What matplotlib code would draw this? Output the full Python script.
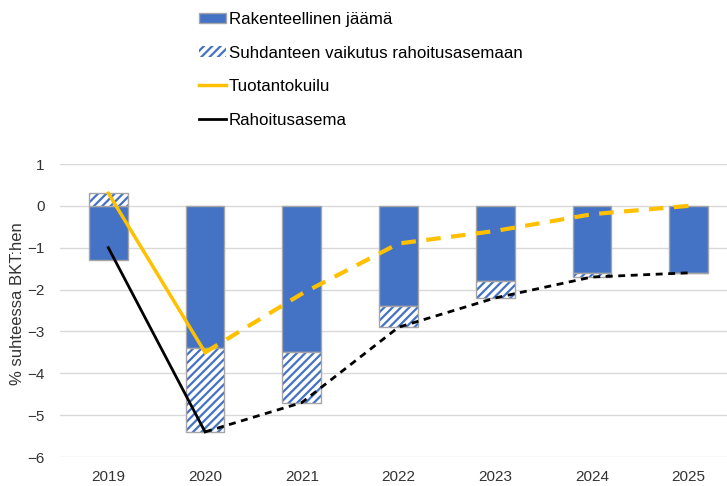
import matplotlib
matplotlib.use("Agg")
import matplotlib.pyplot as plt
import numpy as np

plt.rcParams['font.family'] = ['Liberation Sans', 'DejaVu Sans']
plt.rcParams['hatch.linewidth'] = 1.6

years = ['2019', '2020', '2021', '2022', '2023', '2024', '2025']
rakenteellinen = [-1.3, -3.4, -3.5, -2.4, -1.8, -1.6, -1.6]
suhdanne = [0.3, -2.0, -1.2, -0.5, -0.4, -0.1, 0.0]
tuotantokuilu = [0.3, -3.5, -2.1, -0.9, -0.6, -0.2, 0.0]
rahoitusasema = [-1.0, -5.4, -4.7, -2.9, -2.2, -1.7, -1.6]
n_toteutunut = 2  # toteutuneet vuodet (yhtenäinen viiva), loput ennustetta

blue = '#4472C4'
grey = '#A6A6A6'
yellow = '#FFC000'
txt = '#333333'

fig = plt.figure(figsize=(7.27, 4.86), dpi=100)
ax = fig.add_axes([60 / 727, 1 - 457 / 486, 677 / 727, 293 / 486])

x = np.arange(len(years))
w = 0.40

# suhdanteen osuus pinotaan rakenteellisen jäämän päälle (negatiiviset alaspäin)
base = [0 if s > 0 else r for r, s in zip(rakenteellinen, suhdanne)]

b1 = ax.bar(x, rakenteellinen, w, color=blue, edgecolor=grey, linewidth=1,
            label='Rakenteellinen jäämä', zorder=2)
b2 = ax.bar(x, suhdanne, w, bottom=base, color='white', edgecolor=blue,
            hatch='////', linewidth=0,
            label='Suhdanteen vaikutus rahoitusasemaan', zorder=2)
ax.bar(x, suhdanne, w, bottom=base, facecolor='none', edgecolor=grey,
       linewidth=1, zorder=3)

k = n_toteutunut
l1, = ax.plot(x[:k], tuotantokuilu[:k], color=yellow, lw=2.5,
              label='Tuotantokuilu', zorder=4)
ax.plot(x[k - 1:], tuotantokuilu[k - 1:], color=yellow, lw=3,
        ls=(0, (3.5, 2.5)), zorder=4)
l2, = ax.plot(x[:k], rahoitusasema[:k], color='black', lw=2,
              label='Rahoitusasema', zorder=4)
ax.plot(x[k - 1:], rahoitusasema[k - 1:], color='black', lw=2,
        ls=(0, (2.5, 2)), zorder=4)

ax.set_xlim(-0.5, len(years) - 0.5)
ax.set_ylim(-6, 1)
ax.set_yticks(range(-6, 2))
ax.set_xticks(x)
ax.set_xticklabels(years)
ax.grid(axis='y', color='#D9D9D9', lw=1, zorder=0)
ax.set_axisbelow(True)
for s in ax.spines.values():
    s.set_visible(False)
ax.tick_params(length=0, labelsize=11, labelcolor=txt)
ax.tick_params(axis='y', pad=11)
ax.tick_params(axis='x', pad=9)

ax.set_ylabel('% suhteessa BKT:hen', fontsize=12, color=txt)
ax.yaxis.set_label_coords(-0.051, 0.525)

fig.legend([b1, b2, l1, l2],
           ['Rakenteellinen jäämä', 'Suhdanteen vaikutus rahoitusasemaan',
            'Tuotantokuilu', 'Rahoitusasema'],
           loc='upper left', bbox_to_anchor=(187 / 727, 1.0), frameon=False,
           fontsize=12.2, handlelength=1.6, handleheight=0.6,
           handletextpad=0.15, labelspacing=1.1, borderpad=0.2)

fig.savefig('out.png', dpi=100)
